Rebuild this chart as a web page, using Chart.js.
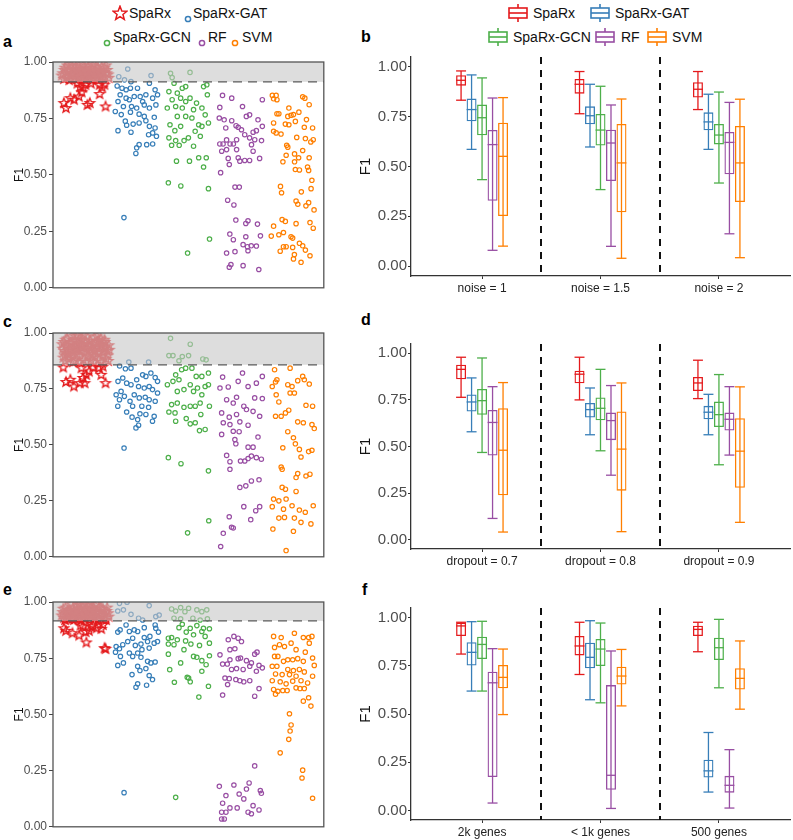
<!DOCTYPE html>
<html>
<head>
<meta charset="utf-8">
<script src="https://cdn.jsdelivr.net/npm/chart.js@4.4.1/dist/chart.umd.min.js"></script>
<style>
  body { margin: 0; width: 793px; height: 840px; background: #fff; position: relative; overflow: hidden;
         font-family: "Liberation Sans", Arial, sans-serif; }
  canvas { position: absolute; }
  .tag { position: absolute; font-weight: bold; font-size: 16px; line-height: 16px; color: #000; }
  .leg { position: absolute; font-size: 14px; line-height: 16px; color: #111; white-space: nowrap; }
  .ico { position: absolute; }
</style>
</head>
<body>
<div id="legends"></div>
<div class="tag" style="left:3px;top:34px">a</div>
<div class="tag" style="left:361px;top:29px">b</div>
<div class="tag" style="left:3px;top:314px">c</div>
<div class="tag" style="left:361px;top:312px">d</div>
<div class="tag" style="left:3px;top:582px">e</div>
<div class="tag" style="left:362px;top:582px">f</div>

<canvas id="pa" width="330" height="245" style="left:0;top:52px"></canvas>
<canvas id="pc" width="330" height="243" style="left:0;top:323px"></canvas>
<canvas id="pe" width="330" height="244" style="left:0;top:592px"></canvas>
<canvas id="pb" width="453" height="249" style="left:340px;top:47px"></canvas>
<canvas id="pd" width="453" height="235" style="left:340px;top:334px"></canvas>
<canvas id="pf" width="453" height="242" style="left:340px;top:598px"></canvas>

<script>
Chart.defaults.font.family = '"Liberation Sans", Arial, sans-serif';
Chart.defaults.animation = false;

const methods = ['SpaRx', 'SpaRx-GAT', 'SpaRx-GCN', 'RF', 'SVM'];
const colors = ['#E41A1C', '#377EB8', '#4DAF4A', '#984EA3', '#FF7F00'];

// F1 thresholds (dashed line / grey band) for the scatter panels
const thrA = 0.912, thrC = 0.858, thrE = 0.916;

// ---- panel a : [x (jittered group position), F1] ----
const aSpaRx = [
  [0.68,0.95],[0.72,0.975],[0.75,0.93],[0.78,0.96],[0.82,0.985],[0.84,0.94],[0.87,0.965],[0.9,0.925],[0.92,0.98],[0.95,0.95],
  [0.97,0.93],[1.0,0.97],[1.02,0.945],[1.05,0.985],[1.07,0.925],[1.1,0.96],[1.12,0.94],[1.15,0.975],[1.18,0.93],[1.2,0.955],
  [1.23,0.985],[1.25,0.94],[1.28,0.965],[1.3,0.925],[1.33,0.975],[1.35,0.95],[1.38,0.935],[1.4,0.98],[1.43,0.955],[1.46,0.93],
  [1.5,0.965],[1.52,0.945],[0.7,0.925],[0.8,0.92],[0.93,0.96],[1.08,0.95],[1.22,0.92],[1.37,0.96],[1.48,0.985],[0.88,0.945],
  [1.03,0.925],[1.16,0.985],[1.32,0.94],[0.76,0.985],[0.98,0.985],
  [0.66,0.94],[0.71,0.965],[0.74,0.95],[0.77,0.935],[0.8,0.97],[0.83,0.925],[0.86,0.98],[0.89,0.95],[0.91,0.94],[0.94,0.97],
  [0.96,0.925],[0.99,0.955],[1.01,0.935],[1.04,0.96],[1.06,0.94],[1.09,0.975],[1.11,0.93],[1.14,0.955],[1.17,0.94],[1.21,0.97],
  [1.24,0.93],[1.27,0.95],[1.29,0.98],[1.31,0.955],[1.34,0.93],[1.39,0.95],[1.42,0.935],[1.45,0.975],[1.49,0.95],[1.53,0.93],
  [0.70,0.818],[0.74,0.796],[0.82,0.84],[0.89,0.833],[0.98,0.847],[1.03,0.866],[1.06,0.887],[1.10,0.899],[1.135,0.81],
  [1.18,0.818],[1.36,0.858],[1.41,0.887],[1.47,0.803],[1.36,0.899],[1.0,0.89],[1.2,0.905],[0.95,0.905],[1.45,0.9]
];
const aGAT = [
  [1.88,0.969],[1.715,0.935],[1.82,0.921],[1.94,0.913],[2.31,0.94],[1.685,0.894],[1.775,0.884],[1.85,0.877],[1.93,0.884],
  [2.06,0.884],[2.28,0.906],[2.385,0.877],[2.43,0.855],[1.74,0.855],[1.85,0.84],[1.91,0.833],[2.0,0.847],[2.11,0.847],
  [2.215,0.855],[2.34,0.84],[1.70,0.825],[1.80,0.803],[1.95,0.803],[2.045,0.796],[2.185,0.81],[2.28,0.796],[2.40,0.81],
  [1.65,0.781],[1.76,0.767],[1.93,0.778],[2.09,0.769],[2.185,0.759],[2.37,0.755],[1.86,0.72],[1.98,0.725],[2.09,0.73],
  [2.28,0.715],[2.385,0.708],[1.70,0.696],[1.94,0.689],[2.265,0.678],[2.34,0.686],[2.41,0.671],[2.09,0.634],[2.045,0.62],
  [2.23,0.634],[2.34,0.637],[2.03,0.595],[1.81,0.311],[2.155,0.825],[1.835,0.738],[2.215,0.74]
];
const aGCN = [
  [2.67,0.95],[2.70,0.931],[2.735,0.906],[2.64,0.869],[2.795,0.862],[2.887,0.884],[2.95,0.891],[2.70,0.833],[2.857,0.84],
  [2.95,0.825],[2.61,0.796],[2.765,0.803],[2.887,0.796],[2.795,0.759],[2.95,0.759],[2.66,0.722],[2.75,0.696],[2.857,0.715],
  [2.64,0.664],[2.765,0.652],[2.92,0.652],[2.69,0.631],[2.83,0.631],[2.78,0.561],[2.63,0.465],[2.86,0.451],[2.985,0.154],
  [3.03,0.954],[3.28,0.891],[3.34,0.899],[3.03,0.84],[3.15,0.818],[3.25,0.796],[3.095,0.789],[3.31,0.766],[3.37,0.73],
  [3.065,0.752],[3.19,0.722],[3.25,0.715],[3.125,0.693],[3.22,0.671],[3.0,0.664],[3.095,0.627],[3.02,0.561],[3.19,0.576],
  [3.33,0.576],[3.28,0.535],[3.37,0.439],[3.39,0.216],[3.35,0.855]
];
const aRF = [
  [3.63,0.852],[3.80,0.84],[4.365,0.833],[3.999,0.803],[3.58,0.799],[3.57,0.752],[3.66,0.744],[3.80,0.74],[3.88,0.718],
  [4.07,0.759],[4.13,0.766],[4.285,0.744],[4.365,0.715],[3.69,0.708],[3.92,0.711],[3.98,0.70],[4.195,0.689],[4.255,0.696],
  [3.705,0.655],[3.83,0.637],[3.58,0.637],[3.64,0.637],[3.77,0.637],[3.89,0.656],[4.04,0.678],[4.13,0.664],[4.225,0.656],
  [4.35,0.652],[4.165,0.634],[3.615,0.605],[3.705,0.612],[3.89,0.612],[4.195,0.605],[3.735,0.573],[3.92,0.576],[3.95,0.561],
  [4.04,0.564],[4.13,0.564],[4.315,0.573],[3.755,0.546],[3.595,0.51],[3.86,0.446],[3.94,0.446],[3.725,0.388],[3.84,0.367],
  [3.876,0.30],[4.06,0.285],[4.10,0.297],[4.275,0.282],[3.765,0.238],[3.83,0.213],[4.06,0.226],[4.33,0.23],[4.01,0.191],
  [4.09,0.182],[4.16,0.186],[4.255,0.185],[4.10,0.164],[3.705,0.154],[3.86,0.16],[3.785,0.103],[3.755,0.091],[4.01,0.098],[4.30,0.081]
];
const aSVM = [
  [4.55,0.852],[4.62,0.852],[4.573,0.837],[4.635,0.833],[5.11,0.846],[5.15,0.84],[5.23,0.811],[4.855,0.796],[4.635,0.771],
  [4.67,0.771],[4.835,0.759],[4.895,0.764],[4.94,0.767],[5.04,0.778],[4.79,0.725],[4.855,0.722],[4.975,0.737],[5.18,0.745],
  [4.573,0.73],[4.573,0.693],[4.62,0.686],[4.71,0.681],[5.14,0.711],[5.293,0.708],[5.0,0.666],[5.16,0.661],[5.26,0.646],
  [5.305,0.656],[4.815,0.631],[4.835,0.623],[5.11,0.608],[4.805,0.587],[4.96,0.593],[5.035,0.576],[5.23,0.576],[4.745,0.558],
  [4.96,0.558],[4.975,0.524],[5.05,0.522],[5.2,0.535],[5.22,0.52],[5.28,0.476],[4.70,0.449],[4.72,0.421],[5.085,0.425],
  [5.265,0.439],[4.988,0.384],[5.02,0.37],[5.17,0.363],[5.22,0.377],[5.32,0.345],[4.73,0.302],[4.79,0.294],[4.573,0.273],
  [4.988,0.284],[5.245,0.289],[5.305,0.264],[4.53,0.229],[4.67,0.235],[4.755,0.245],[4.895,0.226],[4.925,0.22],[4.695,0.162],
  [4.755,0.182],[4.805,0.182],[4.925,0.179],[5.05,0.197],[5.11,0.186],[5.16,0.167],[4.957,0.147],[4.94,0.128],[5.08,0.113],[5.245,0.142]
];

// ---- panel c ----
const cSpaRx = [
  [0.68,0.93],[0.70,0.96],[0.72,0.90],[0.74,0.945],[0.76,0.975],[0.78,0.92],[0.80,0.885],[0.82,0.955],[0.84,0.985],[0.86,0.91],
  [0.88,0.94],[0.90,0.965],[0.92,0.875],[0.94,0.925],[0.96,0.99],[0.98,0.95],[1.00,0.90],[1.02,0.935],[1.04,0.97],[1.06,0.88],
  [1.08,0.915],[1.10,0.955],[1.12,0.985],[1.14,0.90],[1.16,0.94],[1.18,0.965],[1.20,0.875],[1.22,0.925],[1.24,0.95],[1.26,0.98],
  [1.28,0.895],[1.30,0.935],[1.32,0.96],[1.34,0.88],[1.36,0.915],[1.38,0.975],[1.40,0.945],[1.42,0.90],[1.44,0.93],[1.46,0.96],
  [1.48,0.885],[1.50,0.92],[1.53,0.945],[0.73,0.875],[0.87,0.87],[0.99,0.87],[1.11,0.87],[1.25,0.87],[1.39,0.87],[1.52,0.875],
  [0.83,0.93],[0.97,0.925],[1.07,0.99],[1.19,0.91],[1.31,0.985],[1.45,0.97],[0.75,0.91],[1.03,0.95],[1.27,0.92],
  [0.67,0.95],[0.69,0.89],[0.71,0.92],[0.73,0.97],[0.77,0.94],[0.79,0.9],[0.81,0.925],[0.85,0.955],[0.87,0.9],[0.89,0.93],
  [0.91,0.985],[0.93,0.95],[0.95,0.905],[0.97,0.97],[1.01,0.92],[1.05,0.945],[1.09,0.965],[1.13,0.93],[1.15,0.895],[1.17,0.95],
  [1.21,0.94],[1.23,0.905],[1.29,0.955],[1.33,0.91],[1.35,0.965],[1.37,0.935],[1.41,0.96],[1.43,0.915],[1.47,0.94],[1.51,0.9],[1.54,0.925],
  [0.69,0.846],[0.74,0.781],[0.82,0.791],[0.885,0.761],[0.995,0.776],[1.055,0.799],[1.025,0.843],[1.115,0.813],[1.165,0.828],
  [1.24,0.846],[1.35,0.843],[1.39,0.813],[1.42,0.85],[1.47,0.776],[1.086,0.776]
];
const cGAT = [
  [1.90,0.87],[2.265,0.87],[1.73,0.853],[1.837,0.84],[1.94,0.843],[2.155,0.813],[2.215,0.806],[2.307,0.821],[2.387,0.801],
  [2.43,0.784],[1.70,0.784],[1.788,0.799],[1.86,0.776],[1.94,0.769],[2.045,0.791],[2.08,0.761],[2.185,0.754],[2.276,0.761],
  [2.337,0.747],[2.43,0.732],[1.666,0.724],[1.757,0.739],[1.727,0.702],[1.818,0.717],[1.922,0.695],[2.0,0.724],[2.093,0.71],
  [2.203,0.713],[2.276,0.702],[2.387,0.695],[1.696,0.673],[1.97,0.673],[2.14,0.673],[2.265,0.668],[1.86,0.647],[2.105,0.639],
  [2.215,0.636],[2.368,0.628],[1.96,0.624],[2.063,0.613],[2.337,0.606],[2.032,0.576],[2.08,0.588],[1.812,0.486]
];
const cGCN = [
  [2.67,0.976],[2.64,0.899],[2.715,0.899],[2.826,0.876],[2.887,0.895],[2.875,0.836],[2.95,0.843],[2.765,0.813],[2.826,0.791],
  [2.612,0.769],[2.715,0.784],[2.795,0.739],[2.918,0.747],[2.69,0.68],[2.795,0.687],[2.918,0.668],[2.64,0.647],[2.753,0.643],
  [2.765,0.606],[2.96,0.618],[2.63,0.443],[2.863,0.416],[2.985,0.107],[3.034,0.95],[3.003,0.899],[3.266,0.884],[3.327,0.88],
  [3.065,0.843],[3.144,0.806],[3.248,0.806],[3.37,0.821],[3.034,0.769],[3.168,0.754],[3.309,0.761],[3.37,0.769],[3.095,0.739],
  [3.248,0.724],[3.217,0.687],[3.034,0.673],[3.126,0.673],[3.388,0.673],[3.229,0.636],[3.034,0.594],[3.126,0.599],[3.205,0.564],
  [3.309,0.569],[3.37,0.384],[3.376,0.161]
];
const cRF = [
  [3.632,0.803],[3.999,0.821],[4.365,0.806],[3.583,0.754],[3.736,0.759],[3.919,0.784],[4.102,0.761],[4.255,0.776],[3.706,0.702],
  [3.828,0.687],[3.889,0.713],[4.023,0.673],[4.224,0.71],[4.365,0.707],[3.614,0.643],[3.754,0.624],[3.889,0.636],[4.072,0.658],
  [4.194,0.65],[4.316,0.628],[3.644,0.599],[3.767,0.591],[3.95,0.603],[4.102,0.588],[3.614,0.547],[3.828,0.561],[3.937,0.559],
  [4.285,0.535],[3.858,0.524],[3.876,0.505],[4.102,0.49],[4.194,0.49],[3.706,0.453],[3.767,0.425],[3.962,0.428],[4.041,0.428],
  [4.102,0.439],[4.163,0.45],[4.255,0.443],[4.347,0.436],[3.767,0.391],[3.95,0.31],[4.06,0.317],[4.163,0.339],[4.304,0.344],
  [4.023,0.224],[4.243,0.206],[4.316,0.224],[3.754,0.179],[4.151,0.166],[3.797,0.132],[3.828,0.129],[3.644,0.105],[3.596,0.046]
];
const cSVM = [
  [4.591,0.836],[4.878,0.843],[5.11,0.806],[5.14,0.791],[5.232,0.772],[4.548,0.761],[4.609,0.781],[4.634,0.791],[4.835,0.769],
  [4.914,0.761],[4.957,0.732],[4.878,0.732],[5.018,0.787],[4.621,0.724],[4.67,0.692],[4.792,0.643],[4.853,0.655],[4.609,0.628],
  [4.713,0.628],[5.171,0.677],[5.293,0.673],[5.018,0.603],[5.122,0.599],[5.281,0.591],[5.324,0.573],[4.835,0.559],[4.939,0.532],
  [5.049,0.48],[5.22,0.47],[5.281,0.476],[4.743,0.487],[4.975,0.505],[5.079,0.446],[4.713,0.401],[4.731,0.391],[5.018,0.372],
  [4.988,0.354],[5.171,0.361],[5.244,0.369],[4.731,0.31],[4.792,0.302],[4.988,0.292],[4.573,0.258],[4.67,0.25],[4.804,0.258],
  [4.914,0.228],[4.548,0.224],[4.756,0.213],[5.049,0.209],[5.158,0.199],[5.305,0.228],[4.67,0.173],[4.774,0.176],[4.957,0.173],
  [5.079,0.154],[5.262,0.147],[4.56,0.124],[4.939,0.114],[4.804,0.028]
];

// ---- panel e ----
const eSpaRx = [
  [0.68,0.955],[0.70,0.93],[0.73,0.975],[0.76,0.945],[0.79,0.925],[0.81,0.965],[0.84,0.99],[0.86,0.94],[0.89,0.96],[0.91,0.925],
  [0.94,0.98],[0.96,0.95],[0.99,0.93],[1.01,0.97],[1.04,0.945],[1.06,0.99],[1.09,0.925],[1.11,0.96],[1.14,0.94],[1.16,0.98],
  [1.19,0.93],[1.21,0.955],[1.24,0.975],[1.26,0.935],[1.29,0.96],[1.31,0.99],[1.34,0.925],[1.36,0.95],[1.39,0.97],[1.41,0.94],
  [1.44,0.96],[1.47,0.93],[1.50,0.975],[1.52,0.95],[0.72,0.92],[0.88,0.92],[1.02,0.92],[1.17,0.92],[1.33,0.92],[1.48,0.92],
  [0.98,0.99],[1.27,0.985],[0.83,0.955],[1.13,0.97],
  [0.66,0.94],[0.69,0.97],[0.71,0.945],[0.74,0.93],[0.77,0.965],[0.8,0.95],[0.85,0.925],[0.87,0.975],[0.9,0.945],[0.93,0.935],
  [0.95,0.965],[0.97,0.94],[1.0,0.955],[1.03,0.985],[1.05,0.93],[1.08,0.95],[1.1,0.94],[1.12,0.985],[1.15,0.955],[1.18,0.945],
  [1.2,0.975],[1.23,0.94],[1.25,0.96],[1.28,0.93],[1.3,0.95],[1.35,0.975],[1.38,0.94],[1.42,0.97],[1.45,0.945],[1.49,0.96],[1.53,0.935],
  [0.701,0.883],[0.738,0.872],[0.86,0.861],[0.982,0.851],[1.055,0.891],[1.104,0.866],[1.165,0.872],[1.208,0.891],[1.116,0.82],
  [1.239,0.895],[1.30,0.883],[1.391,0.881],[1.422,0.898],[1.452,0.795],[1.47,0.791],[1.006,0.895]
];
const eGAT = [
  [1.727,0.994],[1.867,0.999],[1.696,0.96],[1.8,0.965],[1.94,0.945],[2.08,0.928],[2.276,0.984],[2.398,0.935],[2.155,0.92],
  [2.46,0.942],[1.739,0.876],[1.696,0.866],[1.849,0.898],[1.91,0.869],[2.0,0.876],[2.063,0.869],[2.185,0.886],[2.398,0.883],
  [2.386,0.898],[2.447,0.866],[1.666,0.802],[1.727,0.792],[1.788,0.81],[1.88,0.824],[1.971,0.839],[2.02,0.807],[2.124,0.813],
  [2.185,0.842],[2.246,0.824],[2.289,0.847],[2.368,0.817],[2.429,0.824],[1.654,0.777],[1.745,0.758],[1.91,0.773],[2.063,0.773],
  [2.142,0.788],[2.276,0.795],[1.971,0.758],[2.124,0.754],[2.246,0.736],[2.307,0.729],[2.386,0.733],[1.696,0.718],[1.8,0.729],
  [2.063,0.714],[2.105,0.695],[2.215,0.704],[1.959,0.677],[2.276,0.673],[2.337,0.655],[2.063,0.636],[2.032,0.621],[2.228,0.63],
  [1.812,0.152]
];
const eGCN = [
  [2.69,0.969],[2.765,0.96],[2.857,0.975],[2.936,0.957],[2.734,0.928],[2.857,0.925],[2.826,0.886],[2.887,0.901],[2.96,0.866],
  [2.63,0.839],[2.69,0.842],[2.795,0.832],[2.63,0.813],[2.734,0.81],[2.948,0.827],[2.918,0.788],[2.63,0.768],[2.857,0.729],
  [2.655,0.699],[2.978,0.665],[2.741,0.643],[2.765,0.131],[3.004,0.972],[3.156,0.965],[3.248,0.957],[3.339,0.965],[3.083,0.928],
  [3.217,0.92],[3.351,0.925],[3.034,0.883],[3.156,0.895],[3.278,0.883],[3.388,0.881],[3.095,0.854],[3.248,0.869],[3.309,0.847],
  [3.046,0.813],[3.205,0.807],[3.388,0.817],[3.095,0.758],[3.156,0.754],[3.248,0.739],[3.327,0.721],[3.388,0.761],[3.248,0.692],
  [3.004,0.662],[3.034,0.645],[3.37,0.625],[3.193,0.577]
];
const eRF = [
  [3.736,0.832],[3.84,0.847],[3.919,0.839],[3.98,0.824],[3.583,0.765],[3.767,0.788],[3.858,0.792],[3.632,0.724],[3.718,0.724],
  [3.767,0.743],[3.919,0.748],[3.962,0.751],[4.072,0.739],[4.163,0.729],[4.224,0.768],[4.267,0.777],[4.304,0.718],[4.365,0.707],
  [3.797,0.7],[3.889,0.704],[4.011,0.7],[4.133,0.714],[4.255,0.692],[3.675,0.662],[3.754,0.659],[3.876,0.655],[3.95,0.65],
  [4.023,0.645],[4.133,0.65],[3.724,0.633],[3.632,0.586],[4.224,0.581],[4.304,0.615],[4.224,0.271],[3.571,0.18],[3.84,0.186],
  [4.121,0.195],[3.693,0.139],[3.937,0.146],[4.072,0.168],[4.328,0.161],[4.347,0.149],[4.023,0.124],[3.632,0.105],[3.767,0.084],
  [3.901,0.084],[4.194,0.094],[4.304,0.075],[4.102,0.065],[4.163,0.058],[3.614,0.065],[3.693,0.065],[3.614,0.035],[3.663,0.035]
];
const eSVM = [
  [4.573,0.847],[4.713,0.842],[4.957,0.861],[5.122,0.842],[5.22,0.842],[5.281,0.847],[4.591,0.798],[4.682,0.81],[4.774,0.802],
  [4.896,0.817],[4.988,0.788],[5.158,0.777],[5.232,0.817],[4.591,0.758],[4.652,0.758],[4.756,0.736],[4.835,0.743],[4.926,0.743],
  [5.018,0.748],[5.122,0.736],[5.293,0.751],[5.324,0.718],[4.548,0.714],[4.634,0.714],[4.835,0.7],[4.939,0.695],[5.049,0.7],
  [5.14,0.689],[4.609,0.68],[4.731,0.677],[4.866,0.677],[4.988,0.67],[5.293,0.67],[4.548,0.65],[4.695,0.645],[4.804,0.636],
  [4.926,0.648],[5.079,0.65],[5.201,0.64],[4.573,0.611],[4.652,0.603],[4.743,0.606],[4.823,0.606],[4.988,0.618],[5.061,0.615],
  [5.14,0.615],[4.609,0.59],[5.22,0.574],[5.122,0.559],[5.262,0.537],[4.866,0.503],[4.896,0.453],[4.878,0.426],[4.853,0.389],
  [4.695,0.329],[5.11,0.252],[5.098,0.217],[5.293,0.127]
];

// ---- box plots: [min, q1, median, q3, max] per condition ----
const bLabels = ['noise = 1', 'noise = 1.5', 'noise = 2'];
const bSpaRx = [[0.833,0.906,0.933,0.958,0.98],[0.765,0.866,0.913,0.94,0.977],[0.786,0.846,0.888,0.923,0.977]];
const bGAT   = [[0.586,0.727,0.786,0.841,0.96],[0.598,0.712,0.755,0.802,0.913],[0.586,0.682,0.724,0.772,0.863]];
const bGCN   = [[0.434,0.657,0.745,0.811,0.945],[0.384,0.605,0.683,0.764,0.903],[0.417,0.611,0.658,0.714,0.874]];
const bRF    = [[0.079,0.328,0.61,0.683,0.844],[0.099,0.427,0.618,0.685,0.809],[0.162,0.461,0.621,0.673,0.822]];
const bSVM   = [[0.10,0.251,0.551,0.72,0.846],[0.039,0.27,0.518,0.714,0.839],[0.042,0.322,0.518,0.704,0.838]];

const dLabels = ['dropout = 0.7', 'dropout = 0.8', 'dropout = 0.9'];
const dSpaRx = [[0.764,0.861,0.914,0.939,0.979],[0.75,0.839,0.888,0.907,0.979],[0.757,0.798,0.841,0.873,0.963]];
const dGAT   = [[0.579,0.688,0.739,0.779,0.868],[0.563,0.655,0.698,0.734,0.814],[0.563,0.646,0.684,0.718,0.78]];
const dGCN   = [[0.468,0.67,0.746,0.809,0.975],[0.477,0.641,0.705,0.763,0.914],[0.402,0.604,0.671,0.741,0.886]];
const dRF    = [[0.114,0.452,0.629,0.696,0.821],[0.346,0.534,0.639,0.682,0.827],[0.454,0.586,0.646,0.682,0.821]];
const dSVM   = [[0.041,0.238,0.48,0.705,0.843],[0.043,0.263,0.486,0.688,0.841],[0.093,0.279,0.475,0.652,0.82]];

const fLabels = ['2k genes', '< 1k genes', '500 genes'];
const fSpaRx = [[0.811,0.905,0.957,0.974,0.976],[0.705,0.804,0.853,0.905,0.976],[0.823,0.905,0.939,0.958,0.976]];
const fGAT   = [[0.619,0.752,0.82,0.872,0.979],[0.574,0.737,0.794,0.87,0.984],[0.095,0.17,0.205,0.263,0.404]];
const fGCN   = [[0.619,0.785,0.861,0.901,0.981],[0.558,0.749,0.837,0.889,0.972],[0.636,0.78,0.844,0.896,0.991]];
const fRF    = [[0.038,0.173,0.662,0.719,0.839],[0.01,0.107,0.182,0.65,0.827],[0.012,0.092,0.13,0.179,0.315]];
const fSVM   = [[0.497,0.633,0.69,0.754,0.837],[0.542,0.653,0.697,0.745,0.835],[0.525,0.627,0.685,0.737,0.879]];

// star marker for SpaRx
function starCanvas(r, color, lw) {
  const s = Math.ceil(r * 2 + 4);
  const c = document.createElement('canvas');
  c.width = s; c.height = s;
  const g = c.getContext('2d');
  g.strokeStyle = color; g.lineWidth = lw; g.lineJoin = 'miter';
  g.beginPath();
  for (let k = 0; k < 10; k++) {
    const rr = k % 2 ? r * 0.42 : r;
    const a = -Math.PI / 2 + k * Math.PI / 5;
    g.lineTo(s / 2 + rr * Math.cos(a), s / 2 + rr * Math.sin(a));
  }
  g.closePath(); g.stroke();
  return c;
}
const starImg = starCanvas(5.0, colors[0], 1.3);

const bandPlugin = {
  id: 'band',
  afterDatasetsDraw(chart) {
    const {ctx, chartArea: a, scales: {y}} = chart;
    const thr = chart.config.options.thr;
    const yt = y.getPixelForValue(thr), y1 = y.getPixelForValue(1);
    ctx.save();
    ctx.fillStyle = 'rgba(198,198,198,0.6)';
    ctx.fillRect(a.left, y1, a.right - a.left, yt - y1);
    ctx.strokeStyle = '#5a5a5a'; ctx.lineWidth = 1.3; ctx.setLineDash([9, 6]);
    ctx.beginPath(); ctx.moveTo(a.left, yt); ctx.lineTo(a.right, yt); ctx.stroke();
    ctx.setLineDash([]);
    ctx.strokeStyle = '#555'; ctx.lineWidth = 1.3;
    ctx.strokeRect(a.left, a.top, a.right - a.left, a.bottom - a.top);
    ctx.restore();
  }
};

function scatterPanel(id, groups, thr) {
  new Chart(document.getElementById(id), {
    type: 'scatter',
    data: {
      datasets: groups.map((g, k) => ({
        label: methods[k],
        data: g,
        pointStyle: k === 0 ? starImg : 'circle',
        pointRadius: k === 0 ? 5 : 2.2,
        pointBorderWidth: 1.2,
        pointBorderColor: colors[k],
        pointBackgroundColor: 'rgba(0,0,0,0)'
      }))
    },
    options: {
      responsive: false,
      thr: thr,
      layout: {padding: {top: 10, right: 4, bottom: 8, left: 0}},
      plugins: {legend: {display: false}, tooltip: {enabled: false}},
      scales: {
        x: {type: 'linear', min: 0.5, max: 5.5, display: false},
        y: {
          min: 0, max: 1,
          afterBuildTicks: s => { s.ticks = [0, 0.25, 0.5, 0.75, 1].map(v => ({value: v})); },
          afterFit: s => { s.width = 53; },
          ticks: {callback: v => v.toFixed(2), color: '#4d4d4d', font: {size: 12}, padding: 2},
          grid: {drawOnChartArea: false, tickLength: 4, color: '#444'},
          border: {display: false},
          title: {display: true, text: 'F1', color: '#111', font: {size: 12}, padding: {top: 12, bottom: 0}}
        }
      }
    },
    plugins: [bandPlugin]
  });
}

scatterPanel('pa', [aSpaRx, aGAT, aGCN, aRF, aSVM], thrA);
scatterPanel('pc', [cSpaRx, cGAT, cGCN, cRF, cSVM], thrC);
scatterPanel('pe', [eSpaRx, eGAT, eGCN, eRF, eSVM], thrE);

const boxPlugin = {
  id: 'boxes',
  beforeDatasetsDraw(chart) {
    const {ctx, chartArea: a, scales: {x}} = chart;
    ctx.save();
    ctx.strokeStyle = '#111'; ctx.lineWidth = 2; ctx.setLineDash([7, 6]);
    [1.5, 2.5].forEach(v => {
      const px = Math.round(x.getPixelForValue(v));
      ctx.beginPath(); ctx.moveTo(px, a.top); ctx.lineTo(px, a.bottom); ctx.stroke();
    });
    ctx.restore();
  },
  afterDatasetsDraw(chart) {
    const {ctx, scales: {y}} = chart;
    ctx.save();
    ctx.lineWidth = 1.3;
    chart.data.datasets.forEach((ds, d) => {
      chart.getDatasetMeta(d).data.forEach((bar, i) => {
        const [mn, , md, , mx] = ds.stats[i];
        const w = bar.width / 2, cx = bar.x;
        const seg = (x0, y0, x1, y1) => { ctx.beginPath(); ctx.moveTo(x0, y0); ctx.lineTo(x1, y1); ctx.stroke(); };
        ctx.strokeStyle = ds.borderColor;
        seg(cx, y.getPixelForValue(mn), cx, y.getPixelForValue(mx));
        seg(cx - w, y.getPixelForValue(mn), cx + w, y.getPixelForValue(mn));
        seg(cx - w, y.getPixelForValue(mx), cx + w, y.getPixelForValue(mx));
        seg(cx - w, y.getPixelForValue(md), cx + w, y.getPixelForValue(md));
      });
    });
    ctx.restore();
  }
};

function boxPanel(id, labels, stats) {
  new Chart(document.getElementById(id), {
    type: 'bar',
    data: {
      datasets: stats.map((s, k) => ({
        label: methods[k],
        stats: s,
        data: s.map((r, i) => ({x: i + 1, y: [r[1], r[3]]})),
        borderColor: colors[k],
        backgroundColor: 'rgba(0,0,0,0)',
        borderWidth: 1.3,
        borderSkipped: false,
        categoryPercentage: 0.443,
        barPercentage: 0.95
      }))
    },
    options: {
      responsive: false,
      layout: {padding: {top: 10, right: 3, bottom: 0, left: 0}},
      plugins: {legend: {display: false}, tooltip: {enabled: false}},
      scales: {
        x: {
          type: 'linear', min: 0.4, max: 3.6, offset: false,
          afterBuildTicks: s => { s.ticks = [1, 2, 3].map(v => ({value: v})); },
          afterFit: s => { s.height = 20; },
          ticks: {callback: v => labels[Math.round(v) - 1], color: '#222', font: {size: 12}, padding: 2, maxRotation: 0},
          grid: {drawOnChartArea: false, offset: false, tickLength: 3, color: '#333'},
          border: {display: true, color: '#333', width: 1.3}
        },
        y: {
          min: -0.05, max: 1.05,
          afterBuildTicks: s => { s.ticks = [0, 0.25, 0.5, 0.75, 1].map(v => ({value: v})); },
          afterFit: s => { s.width = 71; },
          ticks: {callback: v => v.toFixed(2), color: '#4d4d4d', font: {size: 15}, padding: 1},
          grid: {drawOnChartArea: false, tickLength: 3, color: '#333'},
          border: {display: true, color: '#333', width: 1.3},
          title: {display: true, text: 'F1', color: '#111', font: {size: 15}, padding: {top: 17, bottom: 0}}
        }
      }
    },
    plugins: [boxPlugin]
  });
}

boxPanel('pb', bLabels, [bSpaRx, bGAT, bGCN, bRF, bSVM]);
boxPanel('pd', dLabels, [dSpaRx, dGAT, dGCN, dRF, dSVM]);
boxPanel('pf', fLabels, [fSpaRx, fGAT, fGCN, fRF, fSVM]);

// legends (HTML text, small SVG keys)
const legendHost = document.getElementById('legends');
function addItem(svg, ix, iy, text, tx, ty) {
  const ic = document.createElement('div');
  ic.className = 'ico'; ic.style.left = ix + 'px'; ic.style.top = iy + 'px'; ic.innerHTML = svg;
  const t = document.createElement('div');
  t.className = 'leg'; t.style.left = tx + 'px'; t.style.top = ty + 'px'; t.textContent = text;
  legendHost.appendChild(ic); legendHost.appendChild(t);
}
function starSvg(c) {
  const pts = [];
  for (let k = 0; k < 10; k++) {
    const rr = k % 2 ? 3.1 : 7.3, a = -Math.PI / 2 + k * Math.PI / 5;
    pts.push((8 + rr * Math.cos(a)).toFixed(2) + ',' + (8.5 + rr * Math.sin(a)).toFixed(2));
  }
  return `<svg width="16" height="16"><polygon points="${pts.join(' ')}" fill="none" stroke="${c}" stroke-width="1.5"/></svg>`;
}
const dotSvg = c => `<svg width="8" height="8"><circle cx="4" cy="4" r="2.6" fill="none" stroke="${c}" stroke-width="1.5"/></svg>`;
const boxSvg = c => `<svg width="22" height="18"><g stroke="${c}" stroke-width="1.6" fill="none">
  <rect x="2" y="4" width="18" height="10"/><line x1="2" y1="9" x2="20" y2="9"/>
  <line x1="11" y1="0" x2="11" y2="4"/><line x1="11" y1="14" x2="11" y2="18"/></g></svg>`;

// left legend
addItem(starSvg(colors[0]), 112, 5, 'SpaRx', 129, 5);
addItem(dotSvg(colors[1]), 183.5, 9, 'SpaRx-GAT', 193, 5);
addItem(dotSvg(colors[2]), 102.5, 33, 'SpaRx-GCN', 113, 29);
addItem(dotSvg(colors[3]), 197.5, 33, 'RF', 208, 29);
addItem(dotSvg(colors[4]), 230.5, 33, 'SVM', 242, 29);
// right legend
addItem(boxSvg(colors[0]), 507, 4, 'SpaRx', 533, 5);
addItem(boxSvg(colors[1]), 589, 4, 'SpaRx-GAT', 615, 5);
addItem(boxSvg(colors[2]), 487, 28, 'SpaRx-GCN', 513, 29);
addItem(boxSvg(colors[3]), 594, 28, 'RF', 621, 29);
addItem(boxSvg(colors[4]), 646, 28, 'SVM', 672, 29);
</script>
</body>
</html>
